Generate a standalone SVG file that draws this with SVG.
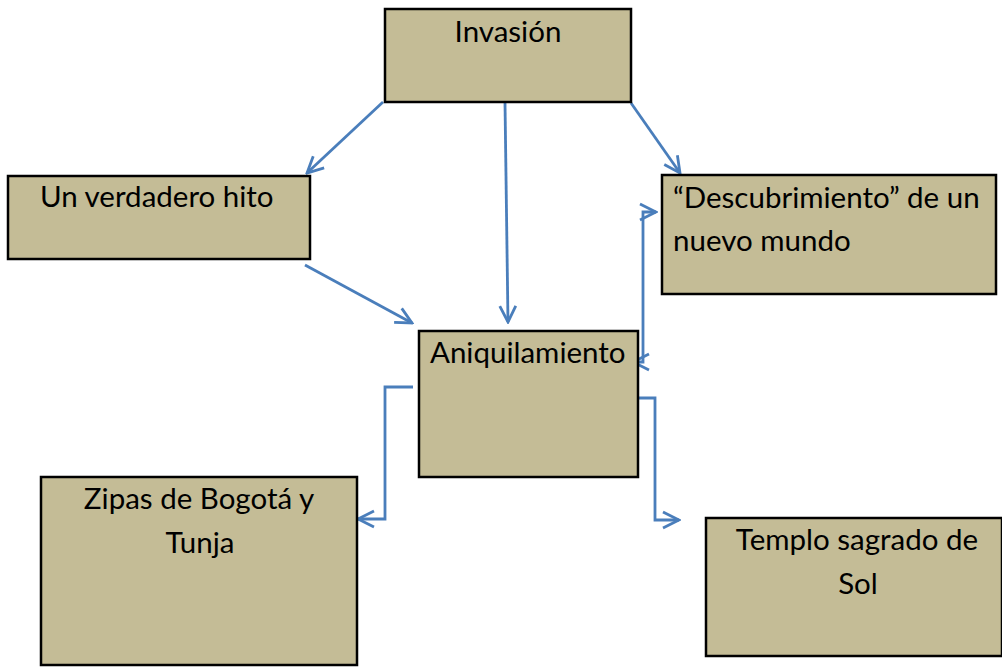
<svg xmlns="http://www.w3.org/2000/svg" width="1002" height="667" viewBox="0 0 1002 667">
<style>
.box{fill:#C4BC96;stroke:#000;stroke-width:2.5}
.t{font-family:Lato,"Open Sans",sans-serif;font-size:29.5px;fill:#000}
.c{fill:none;stroke:#4A7EBB;stroke-width:2.8;marker-end:url(#ah)}
</style>
<defs>
<marker id="ah" viewBox="0 0 20 20" refX="18" refY="10" markerWidth="20" markerHeight="20" markerUnits="userSpaceOnUse" orient="auto-start-reverse">
<path d="M2,2 L18,10 L2,18" fill="none" stroke="#4A7EBB" stroke-width="2.8"/>
</marker>
</defs>
<rect width="1002" height="667" fill="#fff"/>
<g id="connectors">
<path class="c" d="M383,102 L307,173"/>
<path class="c" d="M505,103 L508,322"/>
<path class="c" d="M631,103 L680,173"/>
<path class="c" d="M305,265 L412,323"/>
<path class="c" d="M633,362 L643,362 L643,212 L656,212" style="marker-start:url(#ah)"/>
<path class="c" d="M632,398 L655,398 L655,520 L679,520"/>
<path class="c" d="M413,387 L385,387 L385,519 L358,519"/>
</g>
<g id="invasion">
<rect class="box" x="385" y="9" width="246" height="93"/>
<text class="t" x="508" y="42" text-anchor="middle">Invasión</text>
</g>
<g id="hito">
<rect class="box" x="8" y="176" width="302" height="83"/>
<text class="t" x="40" y="207">Un verdadero hito</text>
</g>
<g id="descubrimiento">
<rect class="box" x="662" y="175" width="334" height="119"/>
<text class="t" x="673" y="208">“Descubrimiento” de un</text>
<text class="t" x="673" y="251">nuevo mundo</text>
</g>
<g id="aniquilamiento">
<rect class="box" x="419" y="331" width="219" height="146"/>
<text class="t" x="430" y="363">Aniquilamiento</text>
</g>
<g id="zipas">
<rect class="box" x="41" y="477" width="316" height="188"/>
<text class="t" x="199" y="509" text-anchor="middle">Zipas de Bogotá y</text>
<text class="t" x="200" y="553" text-anchor="middle">Tunja</text>
</g>
<g id="templo">
<rect class="box" x="706" y="518" width="296" height="138"/>
<text class="t" x="857" y="550" text-anchor="middle">Templo sagrado de</text>
<text class="t" x="858" y="594" text-anchor="middle">Sol</text>
</g>
</svg>
